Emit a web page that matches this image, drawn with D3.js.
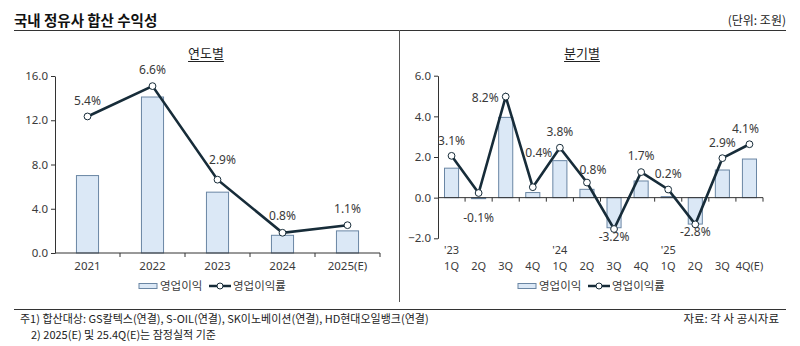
<!DOCTYPE html>
<html>
<head>
<meta charset="utf-8">
<script src="https://cdn.jsdelivr.net/npm/d3@7"></script>
<style>
  body { margin: 0; background: #fff; }
  svg { display: block; font-family: "Noto Sans CJK KR", "Noto Sans", sans-serif; }
  .tick text { fill: #3a3a3a; }
</style>
</head>
<body>
<svg id="chart" width="800" height="346"></svg>
<script>
// 연도별 (조원, %)
const years = ['2021', '2022', '2023', '2024', '2025(E)'];
const yearProfit = [7.0, 14.1, 5.5, 1.6, 2.0];
const yearMargin = [5.4, 6.6, 2.9, 0.8, 1.1];

// 분기별 (조원, %)
const quarters = ['1Q', '2Q', '3Q', '4Q', '1Q', '2Q', '3Q', '4Q', '1Q', '2Q', '3Q', '4Q(E)'];
const quarterYears = ["'23", '', '', '', "'24", '', '', '', "'25", '', '', ''];
const quarterProfit = [1.45, -0.05, 3.95, 0.25, 1.82, 0.41, -1.48, 0.82, 0.05, -1.3, 1.36, 1.9];
const quarterMargin = [3.1, -0.1, 8.2, 0.4, 3.8, 0.8, -3.2, 1.7, 0.2, -2.8, 2.9, 4.1];

const yearTicks = [0, 4, 8, 12, 16];
const quarterTicks = [-2, 0, 2, 4, 6];

const BAR_FILL = '#dbe8f6', BAR_STROKE = '#6a86a4', LINE = '#172c39', TEXT = '#3a3a3a';
const NUM_FONT = '"Noto Sans", "Noto Sans CJK KR", sans-serif';

const svg = d3.select('#chart');

// header, frame
svg.append('text').attr('x', 14).attr('y', 26)
  .style('font-size', '14.5px').style('font-weight', 'bold').attr('fill', '#111')
  .text('국내 정유사 합산 수익성');
svg.append('text').attr('x', 786).attr('y', 25).attr('text-anchor', 'end')
  .style('font-size', '12px').attr('fill', '#222').text('(단위: 조원)');
svg.append('line').attr('x1', 14).attr('x2', 786).attr('y1', 30.5).attr('y2', 30.5)
  .attr('stroke', '#333').attr('stroke-width', 1.2);
svg.append('line').attr('x1', 399.5).attr('x2', 399.5).attr('y1', 30).attr('y2', 302)
  .attr('stroke', '#555').attr('stroke-width', 1);
svg.append('line').attr('x1', 14).attr('x2', 786).attr('y1', 309.5).attr('y2', 309.5)
  .attr('stroke', '#333').attr('stroke-width', 1.2);

svg.append('text').attr('x', 20).attr('y', 323).style('font-size', '11px').attr('fill', '#222')
  .text('주1) 합산대상: GS칼텍스(연결), S-OIL(연결), SK이노베이션(연결), HD현대오일뱅크(연결)');
svg.append('text').attr('x', 31).attr('y', 339).style('font-size', '11px').attr('fill', '#222')
  .text('2) 2025(E) 및 25.4Q(E)는 잠정실적 기준');
svg.append('text').attr('x', 779).attr('y', 323).attr('text-anchor', 'end')
  .style('font-size', '11.5px').attr('fill', '#222').text('자료: 각 사 공시자료');

function panelTitle(cx, label) {
  const t = svg.append('text').attr('x', cx).attr('y', 58).attr('text-anchor', 'middle')
    .style('font-size', '13px').attr('fill', '#222').text(label);
  const w = t.node().getComputedTextLength();
  svg.append('line').attr('x1', cx - w / 2).attr('x2', cx + w / 2)
    .attr('y1', 61.5).attr('y2', 61.5).attr('stroke', '#222');
}

function legend(x, y) {
  const g = svg.append('g').attr('transform', `translate(${x}, ${y})`)
    .style('font-size', '11.5px').attr('fill', TEXT);
  g.append('rect').attr('x', 0).attr('y', -2.5).attr('width', 18).attr('height', 5)
    .attr('fill', BAR_FILL).attr('stroke', BAR_STROKE);
  g.append('text').attr('x', 21).attr('y', 4).text('영업이익');
  g.append('line').attr('x1', 70).attr('x2', 92).attr('y1', 0).attr('y2', 0)
    .attr('stroke', LINE).attr('stroke-width', 2.5);
  g.append('circle').attr('cx', 81).attr('cy', 0).attr('r', 3)
    .attr('fill', '#fff').attr('stroke', LINE).attr('stroke-width', 1);
  g.append('text').attr('x', 94).attr('y', 4).text('영업이익률');
}

function drawPanel(cfg) {
  const x = d3.scaleBand().domain(d3.range(cfg.cats.length))
    .range([cfg.left, cfg.right]).paddingInner(cfg.pad).paddingOuter(cfg.pad / 2);
  const y = d3.scaleLinear().domain(cfg.yDomain).range([cfg.bottom, cfg.top]);
  const y2 = d3.scaleLinear().domain(cfg.y2Domain).range([cfg.bottom, cfg.top]);
  const cx = i => x(i) + x.bandwidth() / 2;
  const step = x.step();

  const g = svg.append('g');

  // bars
  g.selectAll('rect.bar').data(cfg.bars).join('rect').attr('class', 'bar')
    .attr('x', (d, i) => x(i))
    .attr('y', d => y(Math.max(0, d)))
    .attr('width', x.bandwidth())
    .attr('height', d => Math.abs(y(d) - y(0)))
    .attr('fill', BAR_FILL).attr('stroke', BAR_STROKE).attr('stroke-width', 1);

  // y axis
  const yAxis = d3.axisLeft(y).tickValues(cfg.ticks).tickFormat(d3.format('.1f'))
    .tickSize(4).tickSizeOuter(0).tickPadding(3);
  const ya = g.append('g').attr('transform', `translate(${cfg.left}, 0)`).call(yAxis);
  ya.selectAll('text').style('font-size', '11.5px').style('font-family', NUM_FONT);
  ya.selectAll('path, line').attr('stroke', '#333');

  // x axis at zero, ticks on category boundaries
  const y0 = y(0);
  g.append('line').attr('x1', cfg.left).attr('x2', cfg.right).attr('y1', y0).attr('y2', y0)
    .attr('stroke', '#333');
  g.selectAll('line.xt').data(d3.range(1, cfg.cats.length + 1)).join('line').attr('class', 'xt')
    .attr('x1', i => cfg.left + i * step).attr('x2', i => cfg.left + i * step)
    .attr('y1', y0).attr('y2', y0 + 4).attr('stroke', '#333');

  // category labels
  g.selectAll('text.cat').data(cfg.cats).join('text').attr('class', 'cat')
    .attr('x', (d, i) => cx(i)).attr('y', cfg.labelY).attr('text-anchor', 'middle')
    .style('font-size', cfg.catSize).style('font-family', NUM_FONT)
    .attr('fill', TEXT).text(d => d);
  if (cfg.cats2) {
    g.selectAll('text.cat2').data(cfg.cats2.filter(d => d)).join('text').attr('class', 'cat2')
      .attr('x', d => cx(cfg.cats2.indexOf(d))).attr('y', cfg.labelY - 16)
      .attr('text-anchor', 'middle')
      .style('font-size', cfg.catSize).style('font-family', NUM_FONT)
      .attr('fill', TEXT).text(d => d);
  }

  // margin line on hidden secondary scale
  const line = d3.line().x((d, i) => cx(i)).y(d => y2(d));
  g.append('path').datum(cfg.line).attr('d', line)
    .attr('fill', 'none').attr('stroke', LINE).attr('stroke-width', 2.6)
    .attr('stroke-linejoin', 'miter');
  g.selectAll('circle.pt').data(cfg.line).join('circle').attr('class', 'pt')
    .attr('cx', (d, i) => cx(i)).attr('cy', d => y2(d)).attr('r', 3.4)
    .attr('fill', '#fff').attr('stroke', LINE).attr('stroke-width', 1);

  g.selectAll('text.val').data(cfg.line).join('text').attr('class', 'val')
    .attr('x', (d, i) => cx(i) + cfg.offsets[i][0])
    .attr('y', (d, i) => y2(d) + cfg.offsets[i][1])
    .attr('text-anchor', (d, i) => cfg.offsets[i][2] || 'middle')
    .style('font-size', '12px').style('font-family', NUM_FONT).attr('fill', TEXT)
    .text(d => d.toFixed(1) + '%');
}

panelTitle(206, '연도별');
drawPanel({
  cats: years, bars: yearProfit, line: yearMargin,
  left: 55, right: 380, top: 76, bottom: 253, pad: 0.66,
  yDomain: [0, 16], y2Domain: [0, 7], ticks: yearTicks, labelY: 270, catSize: '11.5px',
  offsets: [[0, -11], [0, -12], [5, -16], [0, -13], [0, -12]]
});
legend(139, 286);

panelTitle(582, '분기별');
drawPanel({
  cats: quarters, cats2: quarterYears, bars: quarterProfit, line: quarterMargin,
  left: 438, right: 763, top: 75.7, bottom: 238.3, pad: 0.48,
  yDomain: [-2, 6], y2Domain: [-4, 10], ticks: quarterTicks, labelY: 270, catSize: '11px',
  offsets: [[0, -11], [0, 29], [-7, 5, 'end'], [6, -30], [0, -12], [6, -9],
            [0, 12], [0, -12], [0, -12], [0, 12], [0, -11], [-4, -11]]
});
legend(518, 286);
</script>
</body>
</html>
